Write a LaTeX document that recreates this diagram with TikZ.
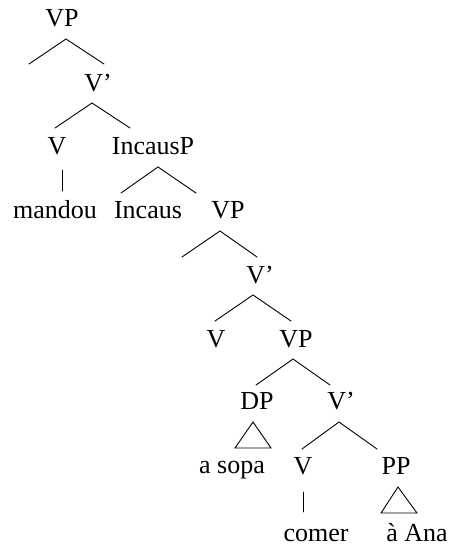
\documentclass[tikz,border=0pt]{standalone}
\usepackage{fontspec}
\setmainfont{Liberation Serif}
\begin{document}
\begin{tikzpicture}[x=1pt,y=-1pt,
  lbl/.style={inner sep=0pt,anchor=base,font=\fontsize{26}{31}\selectfont},
  branch/.style={line width=0.9pt,line cap=round}]
\useasboundingbox (0,0) rectangle (455,546);

% category and word labels
\node[lbl] (vp1)    at (62,27)   {VP};
\node[lbl] (vb1)    at (98,91)   {V’};
\node[lbl] (v1)     at (57,154)  {V};
\node[lbl] (incp)   at (153,154) {IncausP};
\node[lbl] (mandou) at (55,218)  {mandou};
\node[lbl] (inc)    at (148,218) {Incaus};
\node[lbl] (vp2)    at (228,218) {VP};
\node[lbl] (vb2)    at (260,283) {V’};
\node[lbl] (v3)     at (216,347) {V};
\node[lbl] (vp3)    at (296,347) {VP};
\node[lbl] (dp)     at (257,409) {DP};
\node[lbl] (vb3)    at (341,409) {V’};
\node[lbl] (asopa)  at (232,473) {a sopa};
\node[lbl] (v4)     at (303,474) {V};
\node[lbl] (pp)     at (396,474) {PP};
\node[lbl] (comer)  at (316,541) {comer};
\node[lbl] (aana)   at (417,541) {à Ana};

% branching points and branch ends
\coordinate (vp1a) at (66,39);   \coordinate (vp1l) at (29,64);   \coordinate (vp1r) at (104,64);
\coordinate (vb1a) at (92,103);  \coordinate (vb1l) at (55,128);  \coordinate (vb1r) at (130,128);
\coordinate (inca) at (158,167); \coordinate (incl) at (121,193); \coordinate (incr) at (196,193);
\coordinate (vp2a) at (220,231); \coordinate (vp2l) at (182,257); \coordinate (vp2r) at (257,257);
\coordinate (vb2a) at (253,295); \coordinate (vb2l) at (215,321); \coordinate (vb2r) at (291,321);
\coordinate (vp3a) at (293,359); \coordinate (vp3l) at (256,385); \coordinate (vp3r) at (330,385);
\coordinate (vb3a) at (339,422); \coordinate (vb3l) at (302,449); \coordinate (vb3r) at (377,449);
\coordinate (v1t) at (62,170);   \coordinate (v1b) at (62,191);
\coordinate (v4t) at (303,492);  \coordinate (v4b) at (303,512);
\coordinate (dpt) at (253,422);  \coordinate (dpl) at (235,448);  \coordinate (dpr) at (271,448);
\coordinate (ppt) at (398,487);  \coordinate (ppl) at (381,513);  \coordinate (ppr) at (417,513);

% branches
\draw[branch] (vp1l) -- (vp1a) -- (vp1r);
\draw[branch] (vb1l) -- (vb1a) -- (vb1r);
\draw[branch] (incl) -- (inca) -- (incr);
\draw[branch] (vp2l) -- (vp2a) -- (vp2r);
\draw[branch] (vb2l) -- (vb2a) -- (vb2r);
\draw[branch] (vp3l) -- (vp3a) -- (vp3r);
\draw[branch] (vb3l) -- (vb3a) -- (vb3r);
\draw[branch] (v1t) -- (v1b);
\draw[branch] (v4t) -- (v4b);

% roof triangles
\draw[branch,line join=miter] (dpt) -- (dpl) -- (dpr) -- cycle;
\draw[branch,line join=miter] (ppt) -- (ppl) -- (ppr) -- cycle;
\end{tikzpicture}
\end{document}
